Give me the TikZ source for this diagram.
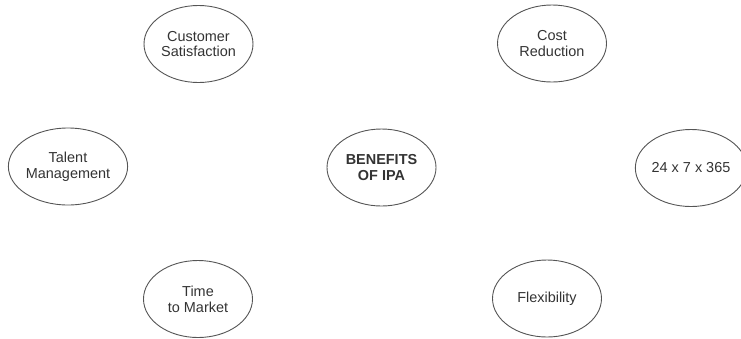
\documentclass[tikz,border=0pt]{standalone}
\usepackage{fontspec}
\setmainfont{Liberation Sans}
\usetikzlibrary{shapes.geometric}
\definecolor{inkgray}{HTML}{333333}
\definecolor{rimgray}{HTML}{555555}
\tikzset{
  benefit/.style={ellipse, draw=rimgray, line width=0.9bp, inner sep=0pt,
    minimum width=109bp, minimum height=77bp, align=center,
    text=inkgray, font=\fontsize{14.5}{16}\selectfont},
  hub/.style={benefit, font=\fontsize{14.5}{16}\selectfont\bfseries}
}
\begin{document}
\begin{tikzpicture}[x=1bp,y=-1bp]
  \useasboundingbox (0,0) rectangle (741,338);
  % outer ring of benefits
  \node[benefit] (cs)   at (198.5,44)  {Customer\\Satisfaction};
  \node[benefit] (cr)   at (552,43.5)  {Cost\\Reduction};
  \node[benefit] (tal)  at (68,166.5)  {Talent\\Management};
  \node[benefit] (avail) at (691,168)  {24 x 7 x 365};
  \node[benefit] (ttm)  at (198,299)   {Time\\to Market};
  \node[benefit] (flex) at (547,298.5) {Flexibility};
  % centre
  \node[hub] (ben) at (381.5,167.5) {BENEFITS\\OF IPA};
\end{tikzpicture}
\end{document}
